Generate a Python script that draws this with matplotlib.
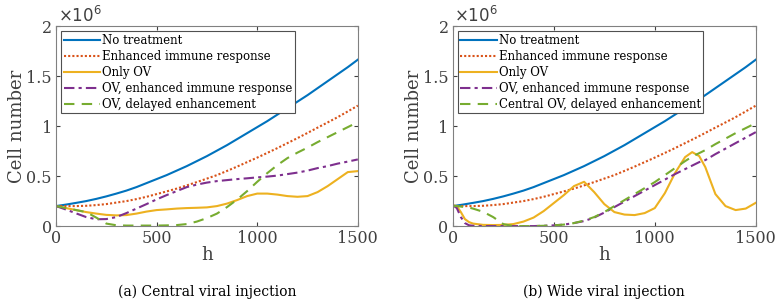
import matplotlib.pyplot as plt

plt.rcParams['font.family'] = 'DejaVu Serif'

# cell numbers in units of 1e6
h = [0, 50, 100, 150, 200, 250, 300, 350, 400, 450, 500, 550, 600, 650, 700, 750, 800, 850, 900, 950,
     1000, 1050, 1100, 1150, 1200, 1250, 1300, 1350, 1400, 1450, 1500]
no_treatment = [0.20, 0.215, 0.232, 0.25, 0.272, 0.297, 0.325, 0.355, 0.39, 0.43, 0.47, 0.51, 0.555, 0.60,
                0.65, 0.70, 0.755, 0.81, 0.87, 0.93, 0.99, 1.05, 1.115, 1.18, 1.245, 1.31, 1.38, 1.45, 1.52,
                1.59, 1.665]
enhanced = [0.20, 0.20, 0.20, 0.203, 0.21, 0.22, 0.235, 0.25, 0.27, 0.293, 0.32, 0.347, 0.375, 0.407, 0.44,
            0.475, 0.51, 0.552, 0.595, 0.64, 0.685, 0.732, 0.78, 0.83, 0.88, 0.932, 0.985, 1.037, 1.09, 1.147,
            1.205]

# (a) central injection
only_ov_a = [0.20, 0.18, 0.16, 0.14, 0.125, 0.112, 0.107, 0.11, 0.125, 0.145, 0.16, 0.167, 0.175, 0.18,
             0.183, 0.187, 0.20, 0.225, 0.26, 0.3, 0.325, 0.325, 0.315, 0.30, 0.293, 0.30, 0.34, 0.40, 0.47,
             0.54, 0.55]
ov_enh_a = [0.20, 0.165, 0.127, 0.09, 0.068, 0.07, 0.09, 0.13, 0.175, 0.22, 0.267, 0.31, 0.35, 0.39, 0.415,
            0.435, 0.45, 0.46, 0.47, 0.478, 0.487, 0.495, 0.505, 0.52, 0.535, 0.555, 0.58, 0.60, 0.625, 0.645,
            0.667]
delayed_a = [0.20, 0.18, 0.16, 0.14, 0.085, 0.025, 0.008, 0.005, 0.005, 0.005, 0.005, 0.007, 0.01, 0.02,
             0.045, 0.08, 0.125, 0.19, 0.265, 0.35, 0.443, 0.53, 0.61, 0.68, 0.735, 0.785, 0.84, 0.89, 0.94,
             0.99, 1.04]

# (b) wide injection
h_b = [0, 20, 40, 60, 80, 100, 150, 200, 250, 300, 350, 400, 450, 500, 550, 600, 650, 700, 750, 800, 850,
       900, 950, 1000, 1050, 1100, 1150, 1185, 1220, 1250, 1300, 1350, 1400, 1450, 1500]
only_ov_b = [0.21, 0.20, 0.14, 0.07, 0.04, 0.025, 0.012, 0.01, 0.012, 0.02, 0.045, 0.085, 0.15, 0.23, 0.31,
             0.40, 0.443, 0.34, 0.22, 0.14, 0.115, 0.11, 0.13, 0.18, 0.33, 0.53, 0.69, 0.74, 0.70, 0.59, 0.32,
             0.2, 0.16, 0.175, 0.233]
ov_enh_b = [0.21, 0.18, 0.09, 0.03, 0.008, 0.003, 0.0, 0.0, 0.0, 0.0, 0.0, 0.0, 0.003, 0.007, 0.015, 0.03,
            0.05, 0.085, 0.135, 0.19, 0.245, 0.30, 0.355, 0.41, 0.465, 0.52, 0.57, 0.605, 0.64, 0.66, 0.72,
            0.775, 0.83, 0.885, 0.94]
delayed_b = [0.20, 0.20, 0.195, 0.19, 0.185, 0.175, 0.143, 0.09, 0.02, 0.0, 0.0, 0.0, 0.003, 0.007, 0.015,
             0.03, 0.055, 0.09, 0.14, 0.2, 0.26, 0.32, 0.38, 0.44, 0.51, 0.58, 0.65, 0.695, 0.73, 0.76, 0.82,
             0.875, 0.93, 0.98, 1.03]

blue, orange, yellow, purple, green = '#0072BD', '#D95319', '#EDB120', '#7E2F8E', '#77AC30'

fig = plt.figure(figsize=(7.82, 3.08), dpi=100)
ax1 = fig.add_axes([0.0716, 0.266, 0.386, 0.649])
ax2 = fig.add_axes([0.579, 0.266, 0.3875, 0.649])

panels = [(ax1, h, only_ov_a, ov_enh_a, delayed_a, 'OV, delayed enhancement', '(a) Central viral injection'),
          (ax2, h_b, only_ov_b, ov_enh_b, delayed_b, 'Central OV, delayed enhancement', '(b) Wide viral injection')]

for ax, hx, ov, ove, dl, dlabel, caption in panels:
    ax.plot(h, no_treatment, color=blue, lw=1.5, label='No treatment')
    ax.plot(h, enhanced, color=orange, lw=1.5, ls=(0, (1, 1)), label='Enhanced immune response')
    ax.plot(hx, ov, color=yellow, lw=1.5, label='Only OV')
    ax.plot(hx, ove, color=purple, lw=1.5, ls=(0, (5, 2, 1.5, 2)), label='OV, enhanced immune response')
    ax.plot(hx, dl, color=green, lw=1.5, ls=(0, (5, 3.5)), label=dlabel)
    ax.set_xlim(0, 1500)
    ax.set_ylim(0, 2)
    ax.set_xticks([0, 500, 1000, 1500])
    ax.set_yticks([0, 0.5, 1, 1.5, 2])
    ax.set_yticklabels(['0', '0.5', '1', '1.5', '2'])
    ax.tick_params(direction='in', top=True, right=True, labelsize=11.5, colors='#404040', length=3, pad=3)
    for s in ax.spines.values():
        s.set_color('#808080')
        s.set_linewidth(0.8)
    ax.set_xlabel('h', fontsize=13, color='#404040', labelpad=-1)
    ax.set_ylabel('Cell number', fontsize=13, color='#404040', labelpad=0)
    ax.text(0.005, 1.0, r'$\times10^6$', transform=ax.transAxes, fontsize=12, color='#404040', va='bottom')
    leg = ax.legend(loc='upper left', fontsize=8.5, handlelength=3.1, handletextpad=0.15, labelspacing=0.25,
                    borderpad=0.2, fancybox=False, framealpha=1, borderaxespad=0.45)
    leg.get_frame().set_edgecolor('#505050')
    leg.get_frame().set_linewidth(0.8)
    pos = ax.get_position()
    fig.text(pos.x0 + pos.width / 2, 0.03, caption, ha='center', va='bottom', fontsize=10)

fig.savefig('out.png', dpi=100)
